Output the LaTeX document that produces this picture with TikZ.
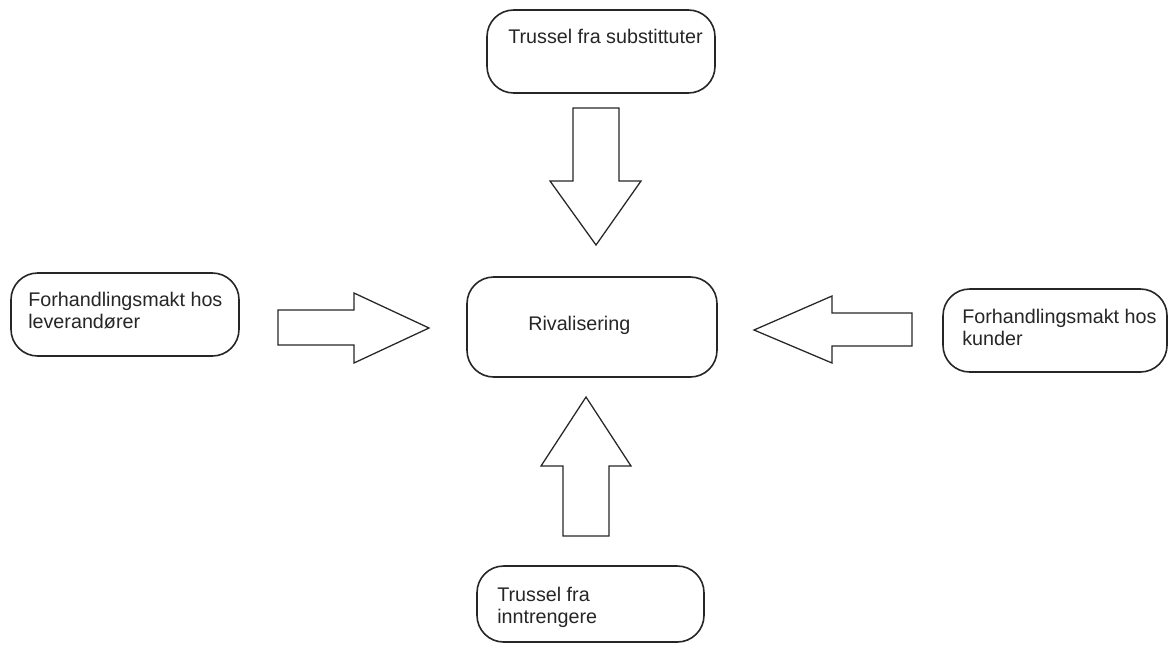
\documentclass[tikz,border=0pt]{standalone}
\usepackage{fontspec}
\setmainfont{Liberation Sans}
\begin{document}
\begin{tikzpicture}[x=0.75pt,y=-0.75pt,
  force/.style={draw=black!85, line width=1.2pt, rounded corners=20pt, fill=white},
  lbl/.style={anchor=north west, inner sep=0pt, align=left, text=black!85,
              font=\fontsize{14.8}{16.8}\selectfont},
  blockarrow/.style={draw=black!85, line width=0.95pt, fill=white, line join=miter}]
\useasboundingbox (0,0) rectangle (1169,644);
% boxes
\draw[force] (487,10) rectangle (715,93);
\draw[force] (11,273) rectangle (239,356);
\draw[force] (943,289) rectangle (1167,372);
\draw[force] (467,277) rectangle (717,377);
\draw[force] (477,566) rectangle (704,642);
% labels
\node[lbl] (sub) at (508,29) {Trussel fra substittuter};
\node[lbl] (lev) at (28,292) {Forhandlingsmakt hos\\leverandører};
\node[lbl] (kun) at (962,309) {Forhandlingsmakt hos\\kunder};
\node[lbl] (riv) at (528,316) {Rivalisering};
\node[lbl] (inn) at (497,587) {Trussel fra\\inntrengere};
% block arrows
\draw[blockarrow] (573,108) -- (619,108) -- (619,181) -- (641,181) -- (596,245)
  -- (550,181) -- (573,181) -- cycle;
\draw[blockarrow] (278,310) -- (354,310) -- (354,293) -- (429,328) -- (354,363)
  -- (354,345) -- (278,345) -- cycle;
\draw[blockarrow] (912,313) -- (832,313) -- (832,296) -- (754,330) -- (832,363)
  -- (832,346) -- (912,346) -- cycle;
\draw[blockarrow] (563,536) -- (609,536) -- (609,466) -- (631,466) -- (586,397)
  -- (541,466) -- (563,466) -- cycle;
\end{tikzpicture}
\end{document}
